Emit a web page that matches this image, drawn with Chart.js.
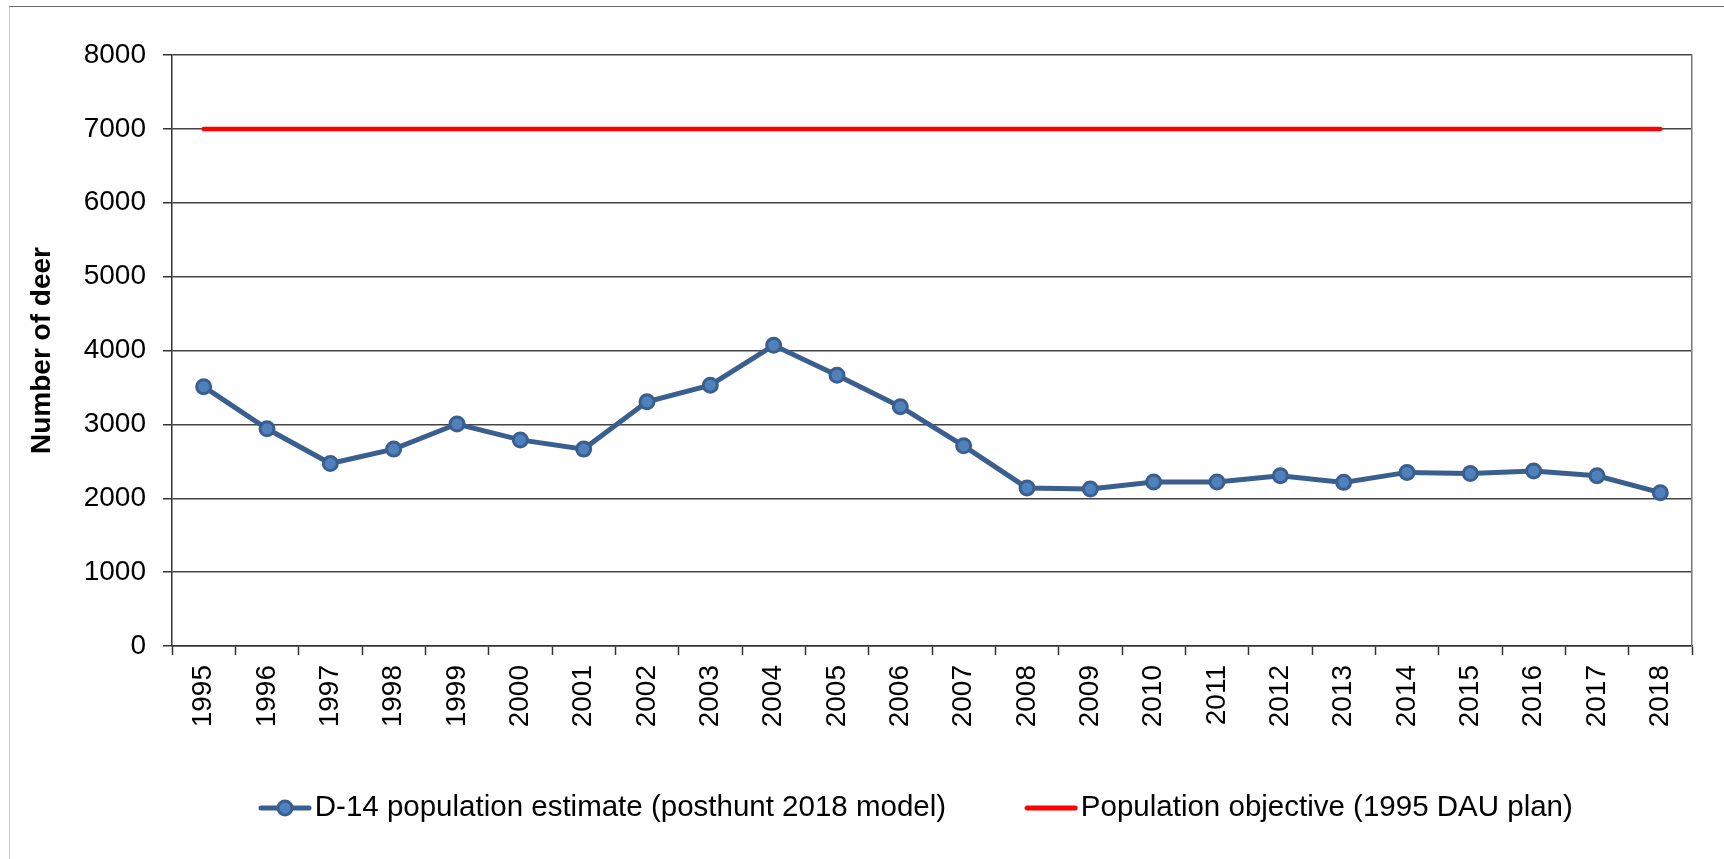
<!DOCTYPE html>
<html>
<head>
<meta charset="utf-8">
<script src="https://cdn.jsdelivr.net/npm/chart.js@4"></script>
<style>
  html, body { margin: 0; padding: 0; background: #ffffff; }
  #frame { position: absolute; left: 9px; top: 6px; width: 1800px; height: 900px;
           border-top: 1px solid #6a6a6a; border-left: 1px solid #c8c8c8; }
  #wrap { position: absolute; left: 0; top: 0; width: 1724px; height: 859px; }
</style>
</head>
<body>
<div id="frame"></div>
<div id="wrap"><canvas id="c"></canvas></div>
<script>
// ---- data ----
const years = ["1995","1996","1997","1998","1999","2000","2001","2002","2003","2004","2005","2006",
               "2007","2008","2009","2010","2011","2012","2013","2014","2015","2016","2017","2018"];
const populationEstimate = [3510, 2940, 2470, 2665, 3005, 2790, 2665, 3305, 3530, 4070, 3665, 3240,
                            2710, 2140, 2125, 2220, 2220, 2305, 2215, 2350, 2335, 2370, 2305, 2075];
const populationObjective = [7000, 7000, 7000, 7000, 7000, 7000, 7000, 7000, 7000, 7000, 7000, 7000,
                             7000, 7000, 7000, 7000, 7000, 7000, 7000, 7000, 7000, 7000, 7000, 7000];
const seriesNames = ["D-14 population estimate (posthunt 2018 model)", "Population objective (1995 DAU plan)"];
const yTicks = { min: 0, max: 8000, step: 1000 };
const yTitle = "Number of deer";

// ---- styles ----
const FONT = "'Liberation Sans', Arial, sans-serif";
const blueLine = '#3a5f8e';
const blueFill = '#4f81bd';
const red = '#ff0000';

function makeIcon(kind) {
  const cv = document.createElement('canvas');
  cv.width = 54; cv.height = 22;
  const g = cv.getContext('2d');
  g.lineCap = 'round';
  g.lineWidth = 5;
  g.strokeStyle = kind === 'blue' ? blueLine : red;
  g.beginPath(); g.moveTo(3, 11); g.lineTo(51, 11); g.stroke();
  if (kind === 'blue') {
    g.beginPath(); g.arc(27, 11, 7, 0, Math.PI * 2);
    g.fillStyle = blueFill; g.fill();
    g.lineWidth = 3; g.strokeStyle = blueLine; g.stroke();
  }
  return cv;
}
const icons = [makeIcon('blue'), makeIcon('red')];

// legend placement: first icon starts near x=258, text row centred near y=808
const LEGEND_TARGET_X = 270;
const LEGEND_TARGET_Y = 808;
const legendPlace = {
  id: 'legendPlace',
  afterLayout(chart) {
    const lg = chart.legend;
    if (!lg || !lg.lineWidths) return;
    const pad = lg.options.labels.padding;
    const fs = lg.options.labels.font.size;
    const x1 = (lg.left + pad + lg.right - lg.lineWidths[0]) / 2;
    const dx = LEGEND_TARGET_X - x1;
    lg.left += dx; lg.right += dx;
    lg.top = LEGEND_TARGET_Y - fs / 2 - pad;
    lg.bottom = LEGEND_TARGET_Y + fs / 2 + 12;
    lg.height = lg.bottom - lg.top;
  }
};

new Chart(document.getElementById('c'), {
  type: 'line',
  data: {
    labels: years,
    datasets: [
      {
        label: seriesNames[0],
        data: populationEstimate,
        borderColor: blueLine,
        backgroundColor: blueFill,
        borderWidth: 5,
        pointRadius: 7,
        pointBorderWidth: 3,
        pointBackgroundColor: blueFill,
        pointBorderColor: blueLine,
        tension: 0,
        order: 1
      },
      {
        label: seriesNames[1],
        data: populationObjective,
        borderColor: red,
        backgroundColor: red,
        borderWidth: 4.5,
        borderCapStyle: 'round',
        pointRadius: 0,
        tension: 0,
        order: 2
      }
    ]
  },
  options: {
    responsive: true,
    maintainAspectRatio: false,
    animation: false,
    layout: { padding: { left: 20, right: 32, top: 55, bottom: 20 } },
    plugins: {
      tooltip: { enabled: false },
      legend: {
        position: 'bottom',
        maxHeight: 40,
        labels: {
          usePointStyle: true,
          pointStyleWidth: 30,
          padding: 90,
          color: '#000',
          font: { family: FONT, size: 29.5 },
          generateLabels(chart) {
            const items = Chart.defaults.plugins.legend.labels.generateLabels(chart);
            items.forEach((it, i) => { it.pointStyle = icons[i]; });
            return items;
          }
        }
      }
    },
    scales: {
      x: {
        type: 'category',
        offset: true,
        grid: {
          offset: true,
          drawOnChartArea: false,
          drawTicks: true,
          tickLength: 9,
          tickColor: '#333',
          tickWidth: 1.5
        },
        border: { display: true, color: '#333', width: 1.5 },
        ticks: {
          color: '#000',
          font: { family: FONT, size: 28 },
          minRotation: 90,
          maxRotation: 90,
          padding: 10,
          autoSkip: false
        },
        afterFit(axis) { axis.height = 153; }
      },
      y: {
        min: yTicks.min,
        max: yTicks.max,
        position: 'left',
        grid: {
          color: '#444',
          lineWidth: 1.5,
          drawTicks: true,
          tickLength: 9,
          tickColor: '#333'
        },
        border: { display: true, color: '#333', width: 1.5 },
        ticks: {
          stepSize: yTicks.step,
          color: '#000',
          font: { family: FONT, size: 28 },
          padding: 17,
          callback: (v) => String(v)
        },
        title: {
          display: true,
          text: yTitle,
          color: '#000',
          font: { family: FONT, size: 28, weight: 'bold' },
          padding: { top: 5, bottom: 0 }
        },
        afterFit(axis) { axis.width = 152; }
      },
      y2: {
        position: 'right',
        min: yTicks.min,
        max: yTicks.max,
        grid: { drawOnChartArea: false, drawTicks: false },
        border: { display: true, color: '#777', width: 1.5 },
        ticks: { display: false },
        afterFit(axis) { axis.width = 0; }
      }
    }
  },
  plugins: [legendPlace]
});
</script>
</body>
</html>
